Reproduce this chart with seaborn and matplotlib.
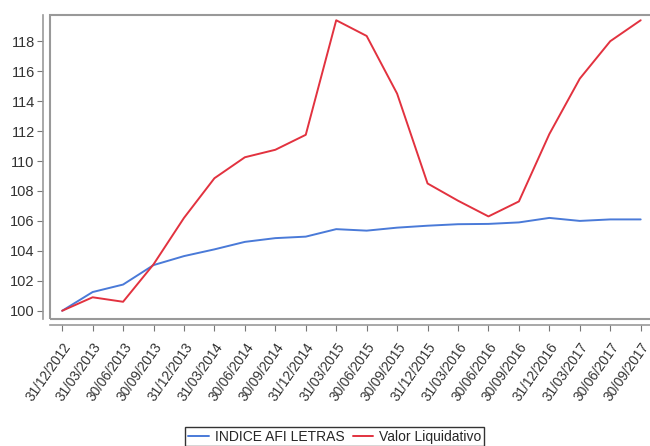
import numpy as np
import pandas as pd
import matplotlib
matplotlib.use("Agg")
import matplotlib.pyplot as plt
import seaborn as sns
from matplotlib.patches import Rectangle

# datas trimestrais
datas = ['31/12/2012', '31/03/2013', '30/06/2013', '30/09/2013', '31/12/2013',
         '31/03/2014', '30/06/2014', '30/09/2014', '31/12/2014', '31/03/2015',
         '30/06/2015', '30/09/2015', '31/12/2015', '31/03/2016', '30/06/2016',
         '30/09/2016', '31/12/2016', '31/03/2017', '30/06/2017', '30/09/2017']

indice_afi = [100.0, 101.25, 101.75, 103.05, 103.65, 104.1, 104.6, 104.85, 104.95, 105.45,
              105.35, 105.55, 105.68, 105.78, 105.8, 105.9, 106.2, 106.0, 106.1, 106.1]

valor_liq = [100.0, 100.9, 100.6, 103.1, 106.2, 108.85, 110.25, 110.75, 111.75, 119.4,
             118.35, 114.5, 108.5, 107.35, 106.3, 107.3, 111.8, 115.5, 118.0, 119.4]

series_nomes = ['INDICE AFI LETRAS', 'Valor Liquidativo']
cores = ['#4a7ad8', '#e2323f']
y_ticks = list(range(100, 120, 2))

df = pd.DataFrame({
    'pos': list(range(len(datas))) * 2,
    'valor': indice_afi + valor_liq,
    'serie': [series_nomes[0]] * len(datas) + [series_nomes[1]] * len(datas),
})

sns.set_style("white")
plt.rcParams['font.family'] = ['Liberation Sans', 'DejaVu Sans']

fig = plt.figure(figsize=(6.5, 4.46), dpi=100)
ax = fig.add_axes([50 / 650, 1 - 319 / 446, 612 / 650, (319 - 15) / 446])

sns.lineplot(data=df, x='pos', y='valor', hue='serie', palette=cores,
             hue_order=series_nomes, linewidth=1.4, ax=ax, legend=False)

ax.set_xlim(-0.4, 19.7)
ax.set_ylim(99.45, 119.75)
ax.set_xlabel('')
ax.set_ylabel('')

for s in ['top', 'right']:
    ax.spines[s].set_visible(False)
ax.spines['left'].set_position(('outward', 5))
ax.spines['bottom'].set_position(('outward', 4))
for s in ['left', 'bottom']:
    ax.spines[s].set_color('#999999')
    ax.spines[s].set_linewidth(1.2)
ax.tick_params(axis='both', which='both', length=4, width=0.8, color='#777777',
               bottom=True, left=True)
ax.tick_params(axis='x', pad=7)
ax.tick_params(axis='y', pad=2)

ax.set_xticks(range(len(datas)))
ax.set_xticklabels(datas)
ax.set_yticks(y_ticks)
ax.set_yticklabels([str(v) for v in y_ticks], fontsize=10.5, color='#333333')
plt.setp(ax.get_xticklabels(), rotation=55, ha='right', va='top',
         rotation_mode='anchor', fontsize=9.8, color='#333333')

# moldura da área do gráfico
ax.add_patch(Rectangle((0, 0), 1.2, 1, transform=ax.transAxes, fill=False,
                       edgecolor='#999999', linewidth=1.5, clip_on=False, zorder=5))

handles = [plt.Line2D([], [], color=c, linewidth=1.4) for c in cores]
leg = fig.legend(handles, series_nomes, loc='upper center', bbox_to_anchor=(0.515, 0.043),
                 ncol=2, fontsize=10, frameon=True, fancybox=False, borderpad=0.2,
                 borderaxespad=0, handlelength=1.5, handletextpad=0.4, columnspacing=0.6)
leg.get_frame().set_edgecolor('black')
leg.get_frame().set_linewidth(1.0)

fig.savefig('out.png', dpi=100)
